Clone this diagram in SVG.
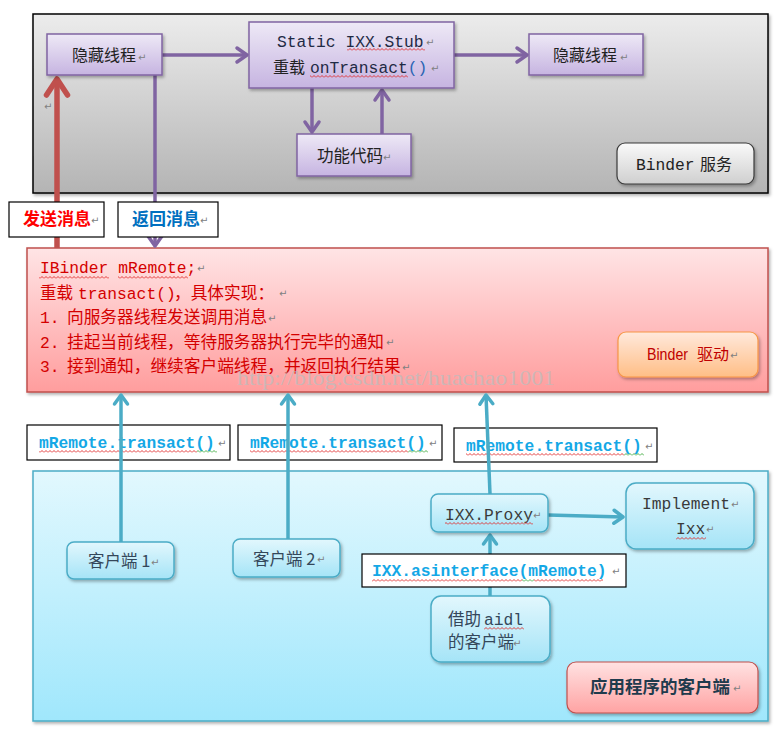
<svg xmlns="http://www.w3.org/2000/svg" width="774" height="732" viewBox="0 0 774 732">
<defs>
<linearGradient id="gGray" x1="0" y1="0" x2="0" y2="1"><stop offset="0" stop-color="#ececec"/><stop offset="1" stop-color="#b4b4b4"/></linearGradient>
<linearGradient id="gPur" x1="0" y1="0" x2="0" y2="1"><stop offset="0" stop-color="#eee9f6"/><stop offset="1" stop-color="#c6b4e1"/></linearGradient>
<linearGradient id="gRed" x1="0" y1="0" x2="0" y2="1"><stop offset="0" stop-color="#ffe4e5"/><stop offset="1" stop-color="#ff9d9d"/></linearGradient>
<linearGradient id="gBlue" x1="0" y1="0" x2="0" y2="1"><stop offset="0" stop-color="#e2f8fe"/><stop offset="1" stop-color="#a0e7fc"/></linearGradient>
<linearGradient id="gNode" x1="0" y1="0" x2="0" y2="1"><stop offset="0" stop-color="#e2f7fd"/><stop offset="1" stop-color="#a5e4f7"/></linearGradient>
<linearGradient id="gOr" x1="0" y1="0" x2="0" y2="1"><stop offset="0" stop-color="#ffe9dc"/><stop offset="1" stop-color="#ffbe86"/></linearGradient>
<linearGradient id="gSvc" x1="0" y1="0" x2="0" y2="1"><stop offset="0" stop-color="#fafafa"/><stop offset="1" stop-color="#cfcfcf"/></linearGradient>
<linearGradient id="gApp" x1="0" y1="0" x2="0" y2="1"><stop offset="0" stop-color="#ffe2e2"/><stop offset="1" stop-color="#ffa3a3"/></linearGradient>
<filter id="sh" x="-10%" y="-10%" width="130%" height="140%"><feDropShadow dx="1.5" dy="2" stdDeviation="1.5" flood-color="#000" flood-opacity="0.3"/></filter>
<pattern id="sqR" width="4" height="3" patternUnits="userSpaceOnUse"><path d="M0,2.5 L2,0.5 L4,2.5" fill="none" stroke="#e02828" stroke-width="0.9"/></pattern>
<pattern id="sqG" width="4" height="3" patternUnits="userSpaceOnUse"><path d="M0,2.5 L2,0.5 L4,2.5" fill="none" stroke="#3aa83a" stroke-width="0.9"/></pattern>
<marker id="ap" markerUnits="userSpaceOnUse" markerWidth="30" markerHeight="30" viewBox="-15 -15 30 30" refX="0" refY="0" orient="auto" overflow="visible"><path d="M-10,-7 L0,0 L-10,7" fill="none" stroke="#8064a2" stroke-width="3.5" stroke-linecap="round" stroke-linejoin="round"/></marker>
<marker id="ab" markerUnits="userSpaceOnUse" markerWidth="30" markerHeight="30" viewBox="-15 -15 30 30" refX="0" refY="0" orient="auto" overflow="visible"><path d="M-9,-6.5 L0,0 L-9,6.5" fill="none" stroke="#4bacc6" stroke-width="3.5" stroke-linecap="round" stroke-linejoin="round"/></marker>
<marker id="ar" markerUnits="userSpaceOnUse" markerWidth="40" markerHeight="40" viewBox="-20 -20 40 40" refX="0" refY="0" orient="auto" overflow="visible"><path d="M-16,-10.5 L0,0 L-16,10.5" fill="none" stroke="#c0504d" stroke-width="5.5" stroke-linecap="round" stroke-linejoin="round"/></marker>
<style>
.m{font-family:"Liberation Mono","Noto Sans CJK SC",monospace;font-size:16.3px}
.c{font-family:"Noto Sans CJK SC","Noto Sans",sans-serif}
.pm{font-family:"DejaVu Sans",sans-serif;font-size:10px;fill:#808080}
.pur{fill:url(#gPur);stroke:#8064a2;stroke-width:1.5}
.cli{fill:url(#gNode);stroke:#4bacc6;stroke-width:1.5}
.lab{fill:#fff;stroke:#000;stroke-width:1.2}
.blt{font-family:"Liberation Mono",monospace;font-size:16.3px;font-weight:bold;fill:#14a8e6}
.dk{fill:#222}
.ct{fill:#34475a}
.cp{fill:none;stroke:#8064a2;stroke-width:3.5}
.cb{fill:none;stroke:#4bacc6;stroke-width:3.5}
.rt{fill:#d40000}
</style>
</defs>

<!-- background regions -->
<g id="binder-service-region">
<rect x="33" y="14" width="735" height="179" fill="url(#gGray)" stroke="#000" stroke-width="1.5" filter="url(#sh)"/>
</g>
<g id="binder-driver-region">
<rect x="27" y="248" width="741" height="144" fill="url(#gRed)" stroke="#c0504d" stroke-width="1.5" filter="url(#sh)"/>
<text class="m rt" x="40" y="273">IBinder mRemote;</text>
<text class="rt" y="299"><tspan class="c" x="40" font-size="16.5">重载</tspan><tspan class="m" x="78">transact()</tspan><tspan class="c" x="174" font-size="16.7">，具体实现：</tspan></text>
<text class="rt" y="323"><tspan class="m" x="40">1.</tspan><tspan class="c" x="67" font-size="16.7">向服务器线程发送调用消息</tspan></text>
<text class="rt" y="348"><tspan class="m" x="40">2.</tspan><tspan class="c" x="67" font-size="16.7">挂起当前线程，等待服务器执行完毕的通知</tspan></text>
<text class="rt" y="372"><tspan class="m" x="40">3.</tspan><tspan class="c" x="67" font-size="16.7">接到通知，继续客户端线程，并返回执行结果</tspan></text>
<text x="237" y="385" font-family="Liberation Serif,serif" font-size="21" fill="#bdbdbd" fill-opacity="0.75" textLength="318" lengthAdjust="spacingAndGlyphs">http://blog.csdn.net/huachao1001</text>
<rect x="39" y="276" width="70" height="3" fill="url(#sqR)"/>
<rect x="118" y="276" width="70" height="3" fill="url(#sqR)"/>
</g>
<g id="app-client-region">
<rect x="33" y="471" width="735" height="250" fill="url(#gBlue)" stroke="#4bacc6" stroke-width="1.5" filter="url(#sh)"/>
</g>

<!-- transact labels (lines drawn over them) -->
<g id="label-transact-1">
<rect class="lab" x="27" y="425" width="203" height="35"/>
<text class="blt" x="39" y="448">mRemote.transact()</text>
<rect x="39" y="450" width="158" height="3" fill="url(#sqR)"/><rect x="197" y="450" width="20" height="3" fill="url(#sqG)"/>
</g>
<g id="label-transact-2">
<rect class="lab" x="238" y="425" width="204" height="35"/>
<text class="blt" x="250" y="448">mRemote.transact()</text>
<rect x="250" y="450" width="158" height="3" fill="url(#sqR)"/><rect x="408" y="450" width="20" height="3" fill="url(#sqG)"/>
</g>
<g id="label-transact-3">
<rect class="lab" x="454" y="428" width="203" height="34"/>
<text class="blt" x="466" y="451">mRemote.transact()</text>
<rect x="466" y="453" width="158" height="3" fill="url(#sqR)"/><rect x="624" y="453" width="20" height="3" fill="url(#sqG)"/>
</g>

<!-- connectors -->
<g id="connectors">
<line class="cp" x1="162" y1="55" x2="247" y2="55" marker-end="url(#ap)"/>
<line class="cp" x1="454" y1="55" x2="527" y2="55" marker-end="url(#ap)"/>
<line class="cp" x1="312" y1="88" x2="312" y2="132" marker-end="url(#ap)"/>
<line class="cp" x1="382" y1="134" x2="382" y2="90" marker-end="url(#ap)"/>
<line class="cp" x1="155" y1="75" x2="155" y2="246" marker-end="url(#ap)"/>
<line fill="none" stroke="#c0504d" stroke-width="5.5" x1="57" y1="248" x2="57" y2="79" marker-end="url(#ar)"/>
<line class="cb" x1="121" y1="542" x2="121" y2="395" marker-end="url(#ab)"/>
<line class="cb" x1="288" y1="539" x2="288" y2="395" marker-end="url(#ab)"/>
<line class="cb" x1="490" y1="494" x2="486" y2="395" marker-end="url(#ab)"/>
<line class="cb" x1="548" y1="515" x2="623" y2="517" marker-end="url(#ab)"/>
<line class="cb" x1="490" y1="596" x2="490" y2="535" marker-end="url(#ab)"/>
</g>

<!-- labels over lines -->
<g id="label-send">
<rect class="lab" x="9" y="202" width="95" height="35"/>
<text class="c" x="23" y="225" font-size="17" font-weight="bold" fill="#ff0000">发送消息</text>
</g>
<g id="label-return">
<rect class="lab" x="118" y="202" width="100" height="35"/>
<text class="c" x="132" y="225" font-size="17" font-weight="bold" fill="#0070c0">返回消息</text>
</g>
<g id="label-asinterface">
<rect class="lab" x="362" y="554" width="264" height="33"/>
<text class="blt" x="372" y="576">IXX.asinterface(mRemote)</text>
<rect x="372" y="579" width="150" height="3" fill="url(#sqR)"/><rect x="522" y="579" width="12" height="3" fill="url(#sqG)"/><rect x="534" y="579" width="69" height="3" fill="url(#sqR)"/>
</g>

<!-- nodes -->
<g id="hidden-thread-left">
<rect class="pur" x="47" y="34" width="115" height="41" filter="url(#sh)"/>
<text class="c dk" x="72" y="61" font-size="16">隐藏线程</text>
</g>
<g id="stub">
<rect class="pur" x="249" y="22" width="205" height="66" filter="url(#sh)"/>
<text class="m" x="277" y="47" fill="#1f2a44">Static IXX.Stub</text>
<text y="73"><tspan class="c dk" x="273" font-size="16">重载</tspan><tspan class="m" x="310" fill="#1f2a44">onTransact</tspan><tspan class="m" fill="#2a64b4">()</tspan></text>
<rect x="347" y="48" width="78" height="3" fill="url(#sqR)"/>
<rect x="310" y="75" width="98" height="3" fill="url(#sqR)"/>
</g>
<g id="hidden-thread-right">
<rect class="pur" x="529" y="34" width="114" height="41" filter="url(#sh)"/>
<text class="c dk" x="553" y="61" font-size="16">隐藏线程</text>
</g>
<g id="function-code">
<rect class="pur" x="297" y="134" width="114" height="42" filter="url(#sh)"/>
<text class="c dk" x="317" y="162" font-size="16.5">功能代码</text>
</g>
<g id="binder-service">
<rect x="617" y="143" width="137" height="41" rx="8" fill="url(#gSvc)" stroke="#3a3a3a" stroke-width="1.2" filter="url(#sh)"/>
<text x="636" y="170"><tspan class="m" fill="#222">Binder</tspan><tspan class="c" x="700" font-size="16" fill="#222">服务</tspan></text>
</g>
<g id="binder-driver">
<rect x="618" y="332" width="140" height="45" rx="8" fill="url(#gOr)" stroke="#f79646" stroke-width="1.2" filter="url(#sh)"/>
<text x="647" y="360" font-size="16.5" fill="#c00000" font-family="Liberation Sans,sans-serif" textLength="41" lengthAdjust="spacingAndGlyphs">Binder</text>
<text class="c" x="697" y="360" font-size="16" fill="#c00000">驱动</text>
</g>
<g id="client-1">
<rect class="cli" x="67" y="542" width="107" height="37" rx="7" filter="url(#sh)"/>
<text class="c ct" x="88" y="567" font-size="16.5">客户端 1</text>
</g>
<g id="client-2">
<rect class="cli" x="233" y="539" width="107" height="38" rx="7" filter="url(#sh)"/>
<text class="c ct" x="253" y="565" font-size="16.5">客户端 2</text>
</g>
<g id="ixx-proxy">
<rect class="cli" x="431" y="494" width="117" height="38" rx="7" filter="url(#sh)"/>
<text class="m" x="445" y="520" fill="#3a3a3a">IXX.Proxy</text>
<rect x="445" y="522" width="88" height="3" fill="url(#sqR)"/>
</g>
<g id="implement-ixx">
<rect class="cli" x="626" y="483" width="128" height="66" rx="10" filter="url(#sh)"/>
<text class="m" x="642" y="509" fill="#3a3a3a">Implement</text>
<text class="m" x="676" y="534" fill="#3a3a3a">Ixx</text>
<rect x="676" y="537" width="30" height="3" fill="url(#sqR)"/>
</g>
<g id="aidl-client">
<rect class="cli" x="431" y="596" width="119" height="66" rx="10" filter="url(#sh)"/>
<text y="625"><tspan class="c ct" x="448" font-size="16.5">借助</tspan><tspan class="m" x="484" fill="#34475a">aidl</tspan></text>
<text class="c ct" x="448" y="648" font-size="16.5">的客户端</text>
<rect x="484" y="627" width="40" height="3" fill="url(#sqR)"/>
</g>
<g id="app-client-title">
<rect x="567" y="662" width="191" height="51" rx="9" fill="url(#gApp)" stroke="#c0504d" stroke-width="1.2" filter="url(#sh)"/>
<text class="c" x="590" y="693" font-size="17.5" font-weight="bold" fill="#1f3b4d">应用程序的客户端</text>
</g>

<!-- paragraph marks -->
<g id="para-marks" class="pm">
<text x="138" y="61">↵</text><text x="44" y="110">↵</text>
<text x="426" y="46">↵</text><text x="431" y="72">↵</text>
<text x="620" y="61">↵</text><text x="383" y="161">↵</text>
<text x="91" y="224">↵</text><text x="200" y="224">↵</text>
<text x="197" y="272">↵</text><text x="279" y="297">↵</text><text x="268" y="322">↵</text><text x="386" y="346">↵</text><text x="402" y="371">↵</text>
<text x="730" y="359">↵</text>
<text x="218" y="447">↵</text><text x="429" y="447">↵</text><text x="645" y="450">↵</text>
<text x="151" y="566">↵</text><text x="317" y="563">↵</text>
<text x="533" y="519">↵</text><text x="731" y="508">↵</text><text x="706" y="533">↵</text>
<text x="612" y="575">↵</text><text x="513" y="647">↵</text><text x="733" y="692">↵</text>
</g>
</svg>
